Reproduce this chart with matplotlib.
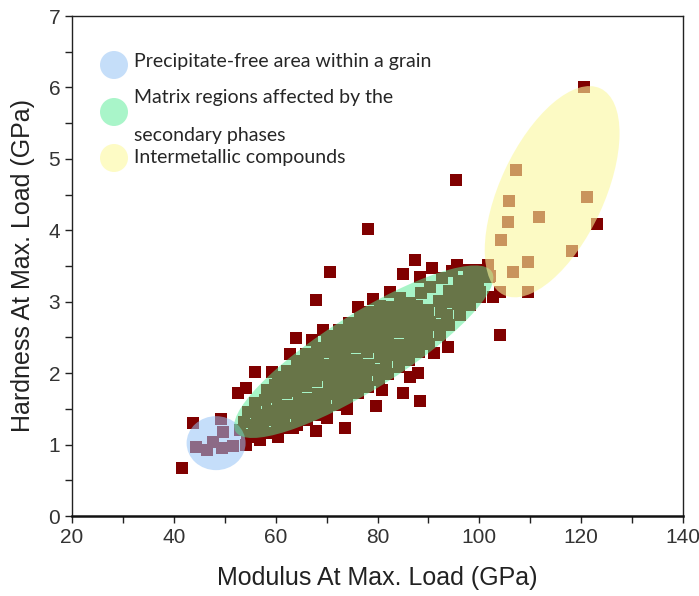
import matplotlib
matplotlib.use("Agg")
import matplotlib.pyplot as plt
from matplotlib.patches import Ellipse
from matplotlib.transforms import Affine2D

# modulus (GPa) / hardness (GPa), grouped by region
pfz_mod = [44.4, 46.5, 47.7, 49.5, 51.6, 49.7, 49.3, 53.0]
pfz_hard = [0.97, 0.92, 1.04, 0.95, 0.98, 1.18, 1.36, 1.20]

matrix_mod = [54.3, 53.8, 54.6,
              56.2, 55.7, 56.4, 55.9,
              58.1, 57.6, 58.4, 57.9, 58.3,
              60.2, 59.7, 60.5, 60.1, 59.8, 60.4,
              62.1, 61.7, 62.4, 62.0, 61.6, 62.3,
              64.2, 63.8, 64.5, 64.0, 63.7, 64.3, 64.1,
              66.1, 65.7, 66.4, 66.0, 65.8, 66.3, 66.0,
              68.2, 67.8, 68.4, 68.0, 67.7, 68.3, 68.1,
              70.1, 69.7, 70.4, 70.0, 69.8, 70.3, 70.0, 70.5,
              72.2, 71.8, 72.4, 72.0, 71.7, 72.3, 72.0, 72.5,
              74.1, 73.8, 74.4, 74.0, 73.7, 74.3, 74.0, 74.4,
              76.2, 75.8, 76.4, 76.0, 75.7, 76.3, 76.0, 76.5,
              78.1, 77.7, 78.4, 78.0, 77.8, 78.3, 78.0, 78.4,
              80.2, 79.8, 80.4, 80.0, 79.7, 80.3, 80.0, 80.5,
              82.1, 81.7, 82.4, 82.0, 81.8, 82.3, 82.0,
              84.2, 83.8, 84.4, 84.0, 83.7, 84.3, 84.5,
              86.1, 85.7, 86.4, 86.0, 85.8, 86.3,
              88.2, 87.8, 88.4, 88.0, 87.7, 88.5,
              90.1, 89.7, 90.4, 90.0, 90.3,
              92.2, 91.8, 92.4, 92.0, 92.6,
              94.1, 93.7, 94.4, 94.0, 94.6,
              96.2, 95.8, 96.4, 96.1,
              98.1, 97.7, 98.4, 98.0,
              100.2, 99.8, 100.4,
              102.0]
matrix_hard = [1.13, 1.31, 1.46,
               1.10, 1.27, 1.41, 1.58,
               1.16, 1.32, 1.47, 1.63, 1.77,
               1.19, 1.35, 1.51, 1.66, 1.83, 1.94,
               1.23, 1.39, 1.54, 1.72, 1.87, 2.03,
               1.28, 1.44, 1.61, 1.75, 1.92, 2.07, 2.17,
               1.34, 1.50, 1.64, 1.82, 1.97, 2.12, 2.27,
               1.41, 1.57, 1.71, 1.89, 2.05, 2.19, 2.35,
               1.48, 1.65, 1.80, 1.97, 2.12, 2.29, 2.43, 2.52,
               1.56, 1.71, 1.88, 2.03, 2.20, 2.34, 2.50, 2.61,
               1.64, 1.80, 1.95, 2.12, 2.27, 2.44, 2.58, 2.70,
               1.72, 1.87, 2.04, 2.19, 2.36, 2.51, 2.66, 2.78,
               1.81, 1.96, 2.12, 2.29, 2.44, 2.61, 2.75, 2.86,
               1.90, 2.05, 2.22, 2.37, 2.54, 2.69, 2.85, 2.94,
               1.99, 2.14, 2.31, 2.46, 2.62, 2.79, 2.93,
               2.09, 2.25, 2.40, 2.57, 2.72, 2.89, 3.05,
               2.19, 2.34, 2.51, 2.66, 2.83, 2.98,
               2.30, 2.45, 2.62, 2.77, 2.94, 3.12,
               2.41, 2.57, 2.72, 2.89, 3.21,
               2.53, 2.68, 2.85, 3.01, 3.33,
               2.67, 2.82, 2.99, 3.15, 3.43,
               2.81, 2.97, 3.13, 3.29,
               2.96, 3.12, 3.28, 3.44,
               3.13, 3.29, 3.45,
               3.36]

imc_mod = [120.5, 107.2, 105.8, 105.6, 111.7, 121.1, 123.1, 104.2,
           118.2, 109.6, 106.6, 101.9, 104.0, 109.6]
imc_hard = [6.00, 4.85, 4.41, 4.12, 4.19, 4.47, 4.09, 3.87,
            3.71, 3.56, 3.42, 3.35, 3.14, 3.14]

other_mod = [41.6, 43.8, 54.2, 56.9, 52.6, 54.2, 55.9, 59.3, 62.8, 64.0,
             67.1, 69.3, 67.9, 70.7, 78.1, 76.2, 79.1, 82.4, 85.0, 87.4,
             88.3, 90.7, 95.6, 95.4, 100.1, 102.7, 101.7, 104.1, 93.8, 91.1,
             88.0, 86.4, 85.0, 88.3, 80.9, 79.7, 74.0, 73.6, 67.9, 70.1,
             63.4, 60.5]
other_hard = [0.67, 1.30, 0.99, 1.06, 1.72, 1.79, 2.01, 2.02, 2.27, 2.49,
              2.46, 2.60, 3.03, 3.42, 4.02, 2.93, 3.04, 3.14, 3.39, 3.59,
              3.35, 3.47, 3.52, 4.71, 3.07, 3.07, 3.52, 2.53, 2.37, 2.28,
              2.00, 1.95, 1.72, 1.61, 1.77, 1.54, 1.50, 1.23, 1.19, 1.37,
              1.23, 1.10]

legend_labels = ["Precipitate-free area within a grain",
                 "Matrix regions affected by the",
                 "secondary phases",
                 "Intermetallic compounds"]

W, H = 699, 596
fig = plt.figure(figsize=(W / 100, H / 100), dpi=100)
ax = fig.add_axes([72 / W, 1 - 516 / H, 611 / W, 500 / H])

pt_color = "#800000"
for xs, ys in [(other_mod, other_hard), (matrix_mod, matrix_hard),
               (pfz_mod, pfz_hard), (imc_mod, imc_hard)]:
    ax.scatter(xs, ys, marker="s", s=80, color=pt_color, linewidths=0, zorder=2)

ax.set_xlim(20, 140)
ax.set_ylim(0, 7)

# ellipses are given in pixels, then mapped to data units
sx = 611 / 120
sy = 500 / 7


def px_ellipse(cx, cy, w, h, ang, color, alpha):
    e = Ellipse((0, 0), w, h, angle=ang, facecolor=color, edgecolor="none",
                alpha=alpha, zorder=3)
    e.set_transform(Affine2D().scale(1 / sx, 1 / sy).translate(cx, cy) + ax.transData)
    ax.add_patch(e)


px_ellipse(48.3, 1.02, 59, 54, 0, "#96c3f6", 0.55)
px_ellipse(77.3, 2.30, 302, 76, 32, "#51eb91", 0.5)
px_ellipse(114.3, 4.54, 228, 104, 65, "#fbf89d", 0.6)

# axes styling
ax.set_xticks(range(20, 141, 20))
ax.set_xticks(range(30, 140, 20), minor=True)
ax.set_yticks(range(0, 8))
ax.set_yticks([0.5 + i for i in range(7)], minor=True)
ax.tick_params(which="both", direction="out", length=5, width=1, colors="#222222",
               top=False, right=False)
ax.tick_params(which="major", labelsize=15, labelcolor="#333333")
for lab in ax.get_xticklabels() + ax.get_yticklabels():
    lab.set_family("Liberation Sans")
for side in ["left", "top", "right"]:
    ax.spines[side].set_linewidth(1.0)
    ax.spines[side].set_color("#222222")
ax.spines["bottom"].set_linewidth(1.8)
ax.spines["bottom"].set_color("#111111")

ax.set_xlabel("Modulus At Max. Load (GPa)", fontsize=18, family="Liberation Sans",
              color="#222222", labelpad=14)
ax.set_ylabel("Hardness At Max. Load (GPa)", fontsize=18, family="Liberation Sans",
              color="#222222", labelpad=10)

# hand-made legend
leg_colors = ["#c5def9", "#a9f5c9", "#fdfbc5"]
circle_y = [65, 112, 158]
for c, yy in zip(leg_colors, circle_y):
    fig.add_artist(Ellipse((114 / W, 1 - yy / H), 28 / W, 28 / H,
                           transform=fig.transFigure, facecolor=c, edgecolor="none"))
text_y = [61, 98, 135, 158]
for lab, yy in zip(legend_labels, text_y):
    fig.text(134 / W, 1 - yy / H, lab, fontsize=14, family="Lato",
             color="#262626", va="center", ha="left")

fig.savefig("out.png", dpi=100)
